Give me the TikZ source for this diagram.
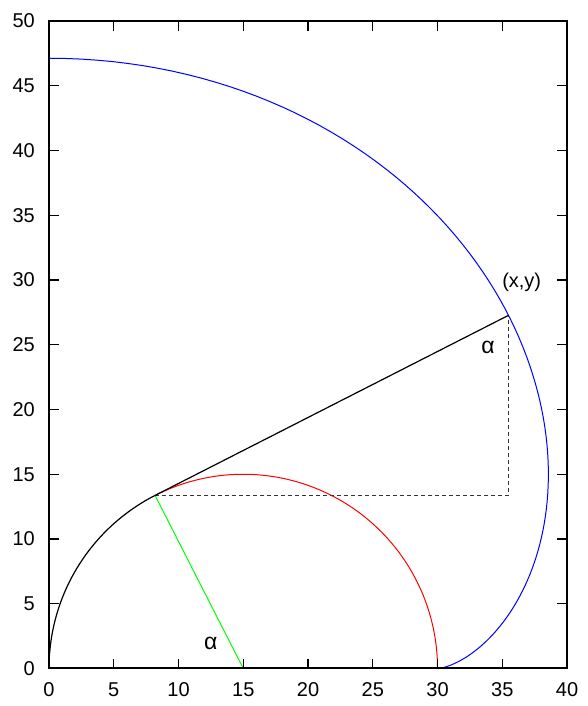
\documentclass[tikz,border=0pt]{standalone}
\usepackage{fontspec}
\setmainfont{Liberation Sans}
\usepackage{tikz}
\usetikzlibrary{
    calc,
    positioning
}
\tikzset{
    frame/.style={line width=2pt, black},
    tickmark/.style={line width=1.3pt, black},
    ticklabel/.style={font=\fontsize{20}{24}\selectfont, inner sep=0pt},
    wound/.style={line width=1.2pt, black},
    unwound/.style={line width=1pt, red},
    involute/.style={line width=1pt, blue},
    radiusline/.style={line width=1pt, green},
    string/.style={line width=1.2pt, black},
    helper/.style={line width=0.8pt, black!80, dash pattern=on 4pt off 3pt},
    note/.style={font=\fontsize{20}{24}\selectfont, inner sep=0pt},
    anglelabel/.style={font=\fontsize{23}{26}\selectfont, inner sep=0pt}
}

\begin{document}
\begin{tikzpicture}[x=12.95pt, y=12.95pt]
    \useasboundingbox (-3.784,-2.896) rectangle (41.62,51.62);
    \pgfmathsetmacro{\ang}{117}
    \coordinate (C) at (15,0);
    \coordinate (T) at ({15+15*cos(\ang)},{15*sin(\ang)});
    \coordinate (P) at ({15+15*cos(\ang)+15*rad(\ang)*sin(\ang)},{15*sin(\ang)-15*rad(\ang)*cos(\ang)});
    \coordinate (Q) at (T -| P);
    \draw[involute] plot[domain=0:180, samples=120, variable=\t]
        ({15+15*cos(\t)+15*rad(\t)*sin(\t)},{15*sin(\t)-15*rad(\t)*cos(\t)});
    \draw[unwound] plot[domain=0:\ang, samples=80, variable=\t]
        ({15+15*cos(\t)},{15*sin(\t)});
    \draw[wound] plot[domain=\ang:180, samples=50, variable=\t]
        ({15+15*cos(\t)},{15*sin(\t)});
    \draw[radiusline] (C) -- (T);
    \draw[helper] (T) -- (Q) -- (P);
    \draw[string] (T) -- (P);
    \foreach \x in {0,5,...,40}{
        \draw[tickmark] (\x,0) -- (\x,0.77);
        \draw[tickmark] (\x,50) -- (\x,49.23);
        \node[ticklabel, anchor=base] (xl\x) at (\x,-2.18) {\x};
    }
    \foreach \y in {0,5,...,50}{
        \draw[tickmark] (0,\y) -- (0.77,\y);
        \draw[tickmark] (40,\y) -- (39.23,\y);
        \node[ticklabel, anchor=east] (yl\y) at (-1.08,\y) {\y};
    }
    \draw[frame] (0,0) rectangle (40,50);
    \node[note] (xy) at (36.5,29.8) {(x,y)};
    \node[anglelabel] (alphatop) at (33.9,24.8) {α};
    \node[anglelabel] (alphabottom) at (12.5,1.9) {α};
\end{tikzpicture}
\end{document}
